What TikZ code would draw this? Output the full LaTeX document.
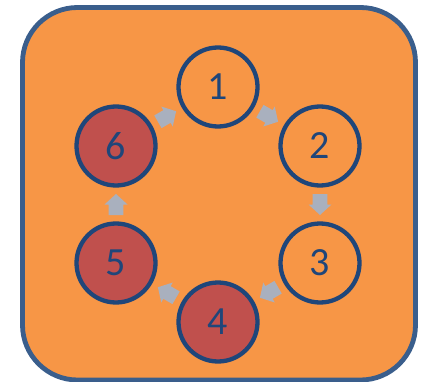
\documentclass[tikz,border=0pt]{standalone}
\usepackage{fontspec}
\setmainfont{Carlito}
\usetikzlibrary{calc}
\definecolor{bgorange}{HTML}{F79646}
\definecolor{frameblue}{HTML}{3A5E8C}
\definecolor{ringblue}{HTML}{1F467A}
\definecolor{redfill}{HTML}{C0504D}
\definecolor{arrowgray}{HTML}{A9B0BE}
\tikzset{
  stage/.style={circle, draw=ringblue, line width=4.3pt, minimum size=79pt, inner sep=0pt,
    text=ringblue, font=\fontsize{40}{40}\selectfont},
  open/.style={stage, fill=bgorange},
  done/.style={stage, fill=redfill},
  flow/.style={fill=arrowgray, draw=none}
}
\newcommand{\blockarrow}[3]{%
  \begin{scope}[shift={($(#1)!0.5!(#2)$)}, rotate=#3]
    \fill[flow] (-10.5pt,-7.3pt) -- (0pt,-7.3pt) -- (0pt,-11.5pt) -- (10.5pt,0pt)
      -- (0pt,11.5pt) -- (0pt,7.3pt) -- (-10.5pt,7.3pt) -- cycle;
  \end{scope}}
\begin{document}
\begin{tikzpicture}[x=1pt,y=-1pt]
\useasboundingbox (0,0) rectangle (425,382);
\draw[fill=bgorange, draw=frameblue, line width=4.8pt, rounded corners=55pt] (22.5,7.5) rectangle (415.5,380);
\node[open] (c1) at (218,87) {1};
\node[open] (c2) at (320,146) {2};
\node[open] (c3) at (320,263) {3};
\node[done] (c4) at (218,322) {4};
\node[done] (c5) at (116,263) {5};
\node[done] (c6) at (116,146) {6};
\blockarrow{c1}{c2}{-30}
\blockarrow{c2}{c3}{-90}
\blockarrow{c3}{c4}{210}
\blockarrow{c4}{c5}{150}
\blockarrow{c5}{c6}{90}
\blockarrow{c6}{c1}{30}
\end{tikzpicture}
\end{document}
